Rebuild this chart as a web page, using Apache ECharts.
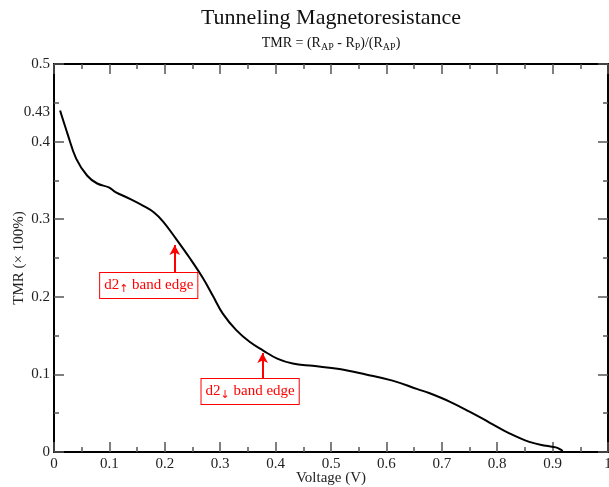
<!DOCTYPE html>
<html><head><meta charset="utf-8">
<script src="https://cdn.jsdelivr.net/npm/echarts@6/dist/echarts.min.js"></script>
<style>html,body{margin:0;padding:0;background:#fff}#c{width:609px;height:487px}</style>
</head><body><div id="c"></div>
<script>
const FONT = "'Liberation Serif','Times New Roman',serif";
const voltage = [0.011,0.024,0.040,0.060,0.078,0.099,0.111,0.138,0.162,0.180,0.197,0.221,0.245,0.269,0.287,0.305,0.329,0.353,0.377,0.404,0.431,0.467,0.515,0.563,0.611,0.656,0.677,0.714,0.750,0.786,0.822,0.858,0.888,0.906,0.915,0.918];
const tmr =     [0.440,0.411,0.378,0.356,0.346,0.341,0.335,0.326,0.317,0.309,0.297,0.274,0.250,0.224,0.201,0.178,0.157,0.142,0.131,0.120,0.114,0.111,0.107,0.100,0.092,0.081,0.076,0.065,0.052,0.038,0.024,0.013,0.008,0.006,0.003,0.001];
const yExtraLabel = {value: 0.4385, text: '0.43'};
// annotations: box centre (data coords), arrow from -> to (data coords)
const annotations = [
  {text: '{n|d2}{s|↑}{n| band edge}', box: [0.171, 0.2146], arrowFrom: [0.218, 0.2307], arrowTo: [0.218, 0.2668]},
  {text: '{n|d2}{s|↓}{n| band edge}', box: [0.354, 0.0780], arrowFrom: [0.3766, 0.0954], arrowTo: [0.3766, 0.1276]}
];
const chart = echarts.init(document.getElementById('c'));
const tickCommon = {
  axisLine: {show: true, onZero: false, lineStyle: {color: '#000', width: 2}},
  axisTick: {show: true, inside: true, length: 10, lineStyle: {color: '#555', width: 1.5}},
  minorTick: {show: true, splitNumber: 2, length: 5, lineStyle: {color: '#555', width: 1.5}},
  splitLine: {show: false}, minorSplitLine: {show: false}
};
const lbl = {color: '#222', fontFamily: FONT, fontSize: 15};
chart.setOption({
  animation: false,
  grid: {left: 54, right: 1, top: 64, bottom: 35, outerBoundsMode: 'none', containLabel: false},
  xAxis: [
    Object.assign({type: 'value', min: 0, max: 1, interval: 0.1, position: 'bottom',
      name: 'Voltage (V)', nameLocation: 'middle', nameGap: 19, nameMoveOverlap: false,
      nameTextStyle: {color: '#222', fontFamily: FONT, fontSize: 15},
      axisLabel: Object.assign({margin: 5}, lbl)}, tickCommon),
    Object.assign({type: 'value', min: 0, max: 1, interval: 0.1, position: 'top', axisLabel: {show: false}}, tickCommon)
  ],
  yAxis: [
    Object.assign({type: 'value', min: 0, max: 0.5, interval: 0.1, position: 'left',
      name: 'TMR (× 100%)', nameLocation: 'middle', nameGap: 27, nameRotate: 90, nameMoveOverlap: false,
      nameTextStyle: {color: '#222', fontFamily: FONT, fontSize: 15},
      axisLabel: Object.assign({margin: 4}, lbl)}, tickCommon),
    Object.assign({type: 'value', min: 0, max: 0.5, interval: 0.1, position: 'right', axisLabel: {show: false}}, tickCommon)
  ],
  series: [{
    type: 'line', data: voltage.map((v, i) => [v, tmr[i]]), showSymbol: false, smooth: 0.4,
    lineStyle: {color: '#000', width: 2}, z: 3,
    markLine: {
      silent: true, symbol: ['none', 'arrow'], symbolSize: [8, 10],
      lineStyle: {color: '#ff0000', width: 2, type: 'solid'}, label: {show: false},
      data: annotations.map(a => [{coord: a.arrowFrom}, {coord: a.arrowTo}])
    }
  }]
});
const pos = p => chart.convertToPixel({gridIndex: 0}, p);
const gx = [];
const [cx] = pos([0.5, 0]);
gx.push({type: 'text', x: cx, y: 18, style: {text: 'Tunneling Magnetoresistance', fill: '#111', font: '22px ' + FONT, align: 'center', verticalAlign: 'middle'}});
gx.push({type: 'text', x: cx, y: 43, style: {
  text: '{n|TMR = (R}{s|AP}{n| - R}{s|P}{n|)/(R}{s|AP}{n|)}', align: 'center', verticalAlign: 'middle',
  rich: {n: {fill: '#111', fontFamily: FONT, fontSize: 14}, s: {fill: '#111', fontFamily: FONT, fontSize: 10, padding: [8, 0, 0, 0]}}
}});
const [, ey] = pos([0, yExtraLabel.value]);
gx.push({type: 'text', x: 50, y: ey, style: {text: yExtraLabel.text, fill: '#222', font: '15px ' + FONT, align: 'right', verticalAlign: 'middle'}});
annotations.forEach(a => {
  const [bx, by] = pos(a.box);
  gx.push({type: 'text', x: bx, y: by, z: 10, style: {
    text: a.text, align: 'center', verticalAlign: 'middle',
    backgroundColor: '#fff', borderColor: '#ff0000', borderWidth: 1, padding: [3, 4, 3, 4],
    rich: {n: {fill: '#ff0000', fontFamily: FONT, fontSize: 15}, s: {fill: '#ff0000', fontFamily: "'DejaVu Sans'", fontSize: 11, padding: [8, 0, 0, 0]}}
  }});
});
chart.setOption({graphic: gx});
</script></body></html>
